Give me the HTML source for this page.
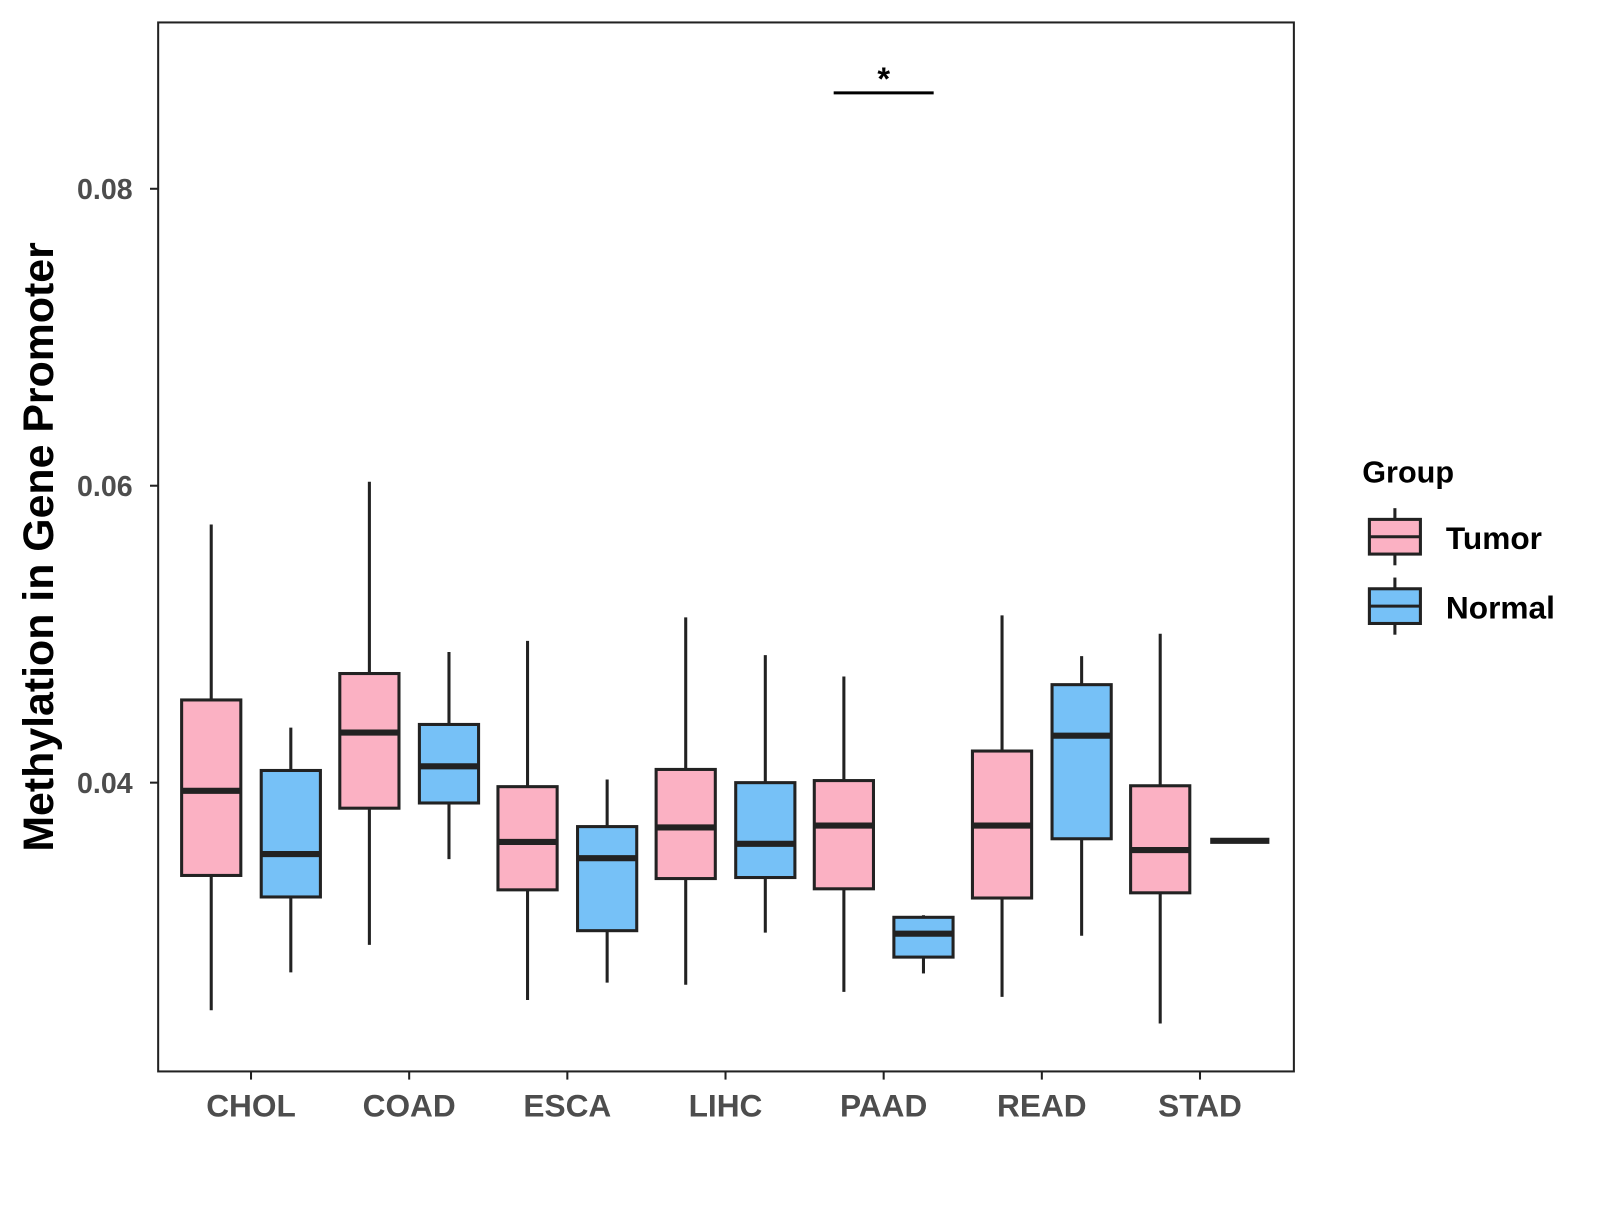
<!DOCTYPE html>
<html><head><meta charset="utf-8"><style>
body{margin:0;background:#fff;}
svg text{font-family:"Liberation Sans",Arial,sans-serif;font-weight:bold;}
</style></head><body>
<svg id="chart" width="1600" height="1200" viewBox="0 0 1568 1176" xmlns="http://www.w3.org/2000/svg">
<rect x="155" y="22" width="1113" height="1028" fill="#fff" stroke="#222" stroke-width="2"/>
<g id="marks"></g>
<g id="axes"></g>
<text x="52" y="536" font-size="42" text-anchor="middle" transform="rotate(-90 52 536)" fill="#000">Methylation in Gene Promoter</text>
<line x1="817" y1="91" x2="915" y2="91" stroke="#000" stroke-width="3"/>
<text x="866" y="88" font-size="32" text-anchor="middle">*</text>
<g>
<text x="1335" y="473" font-size="30">Group</text>
<g>
<line x1="1367" y1="498" x2="1367" y2="554" stroke="#222" stroke-width="3"/>
<rect x="1342" y="509" width="50" height="34" fill="#FBB1C3" stroke="#222" stroke-width="3"/>
<line x1="1342" y1="526" x2="1392" y2="526" stroke="#222" stroke-width="3"/>
<text x="1417" y="538" font-size="31">Tumor</text></g>
<g>
<line x1="1367" y1="566" x2="1367" y2="622" stroke="#222" stroke-width="3"/>
<rect x="1342" y="577" width="50" height="34" fill="#76C1F7" stroke="#222" stroke-width="3"/>
<line x1="1342" y1="594" x2="1392" y2="594" stroke="#222" stroke-width="3"/>
<text x="1417" y="606" font-size="31">Normal</text></g>
</g>
</svg>
<script>
const categories=["CHOL","COAD","ESCA","LIHC","PAAD","READ","STAD"];
const groups=["Tumor","Normal"];
// [max, q3, median, q1, min]
const tumorStats=[[0.05739,0.04557,0.03945,0.03375,0.02467],[0.06027,0.04735,0.04337,0.03828,0.02907],[0.04955,0.03973,0.03601,0.03278,0.02536],[0.05113,0.04089,0.03698,0.03354,0.02639],[0.04715,0.04014,0.03711,0.03285,0.02591],[0.05127,0.04213,0.03711,0.03223,0.02557],[0.05003,0.03979,0.03546,0.03258,0.02378]];
const normalStats=[[0.04371,0.04082,0.03519,0.0323,0.02722],[0.0488,0.04392,0.0411,0.03863,0.03485],[0.04021,0.03704,0.03491,0.03003,0.02653],[0.04859,0.04,0.03588,0.03361,0.0299],[0.03107,0.03093,0.02983,0.02825,0.02715],[0.04852,0.0466,0.04316,0.03622,0.02969],[0.03608,0.03608,0.03608,0.03608,0.03608]];
const yTicks=[0.04,0.06,0.08];
const yTickLabels=["0.04","0.06","0.08"];
const fills=["#FBB1C3","#76C1F7"];
const NS="http://www.w3.org/2000/svg";
function y(v){return 767-(v-0.04)*14550;}
function xc(i){return 246+i*155;}
function mk(tag,attrs,parent){const e=document.createElementNS(NS,tag);for(const k in attrs)e.setAttribute(k,attrs[k]);parent.appendChild(e);return e;}
const marks=document.getElementById('marks'),axes=document.getElementById('axes');
[tumorStats,normalStats].forEach((stats,g)=>{
 stats.forEach((s,i)=>{
  const cx=xc(i)+(g===0?-39:39),w=58;
  const grp=mk('g',{},marks);
  
  
  mk('line',{x1:cx,x2:cx,y1:y(s[0]),y2:y(s[4]),stroke:'#222','stroke-width':3},grp);
  mk('rect',{x:cx-w/2,y:y(s[1]),width:w,height:Math.max(0,y(s[3])-y(s[1])),fill:fills[g],stroke:'#222','stroke-width':3},grp);
  mk('line',{x1:cx-w/2,x2:cx+w/2,y1:y(s[2]),y2:y(s[2]),stroke:'#222','stroke-width':6},grp);
 });
});
yTicks.forEach((t,i)=>{
 const l=mk('line',{x1:147,x2:155,y1:y(t),y2:y(t),stroke:'#222','stroke-width':2},axes);
 
 
 const tx=mk('text',{x:130,y:y(t)+10,'font-size':28,'text-anchor':'end',fill:'#4d4d4d'},axes);
 tx.textContent=yTickLabels[i];
 
 
});
categories.forEach((c,i)=>{
 const l=mk('line',{x1:xc(i),x2:xc(i),y1:1050,y2:1058,stroke:'#222','stroke-width':2},axes);
 
 
 const tx=mk('text',{x:xc(i),y:1094,'font-size':31,'text-anchor':'middle',fill:'#4d4d4d'},axes);
 tx.textContent=c;
 
 
});
</script>
</body></html>
